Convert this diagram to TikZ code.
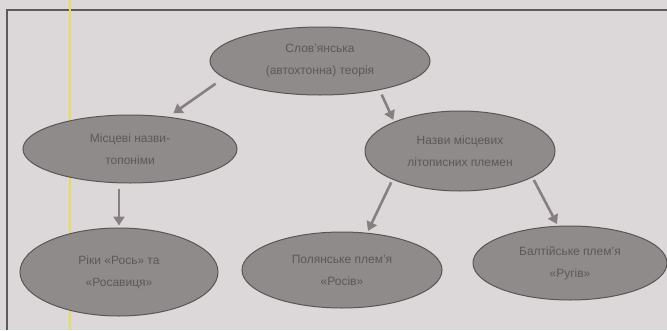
\documentclass[tikz,border=0pt]{standalone}
\usepackage{fontspec}
\setmainfont{Liberation Sans}
\usetikzlibrary{shapes.geometric,arrows.meta}
\definecolor{bg}{HTML}{DCD8D9}
\definecolor{efill}{HTML}{8F8B8B}
\definecolor{edraw}{HTML}{5A5656}
\definecolor{etext}{HTML}{5E5858}
\definecolor{arr}{HTML}{888080}
\definecolor{frame}{HTML}{5E5A5A}
\definecolor{yel}{HTML}{E6DE5A}
\tikzset{
  oval/.style={ellipse, fill=efill, draw=edraw, line width=1pt, inner sep=0pt,
    text=etext, font=\fontsize{12}{22}\selectfont, align=center},
  link/.style={draw=arr, line width=2.6pt, -{Triangle[length=9pt,width=11pt]}, shorten >=2pt}
}
\begin{document}
\begin{tikzpicture}[x=1pt,y=-1pt]
\fill[bg] (0,0) rectangle (667,330);
\useasboundingbox (0,0) rectangle (667,330);
\draw[frame, line width=1.5pt] (7,330) -- (7,10) -- (667,10);
\draw[yel, line width=1.3pt] (70,0) -- (70,330);

\node[oval, minimum width=220pt, minimum height=68pt] (e1) at (320,61) {Слов’янська\\(автохтонна) теорія};
\node[oval, minimum width=214pt, minimum height=68pt] (e2) at (130,149) {Місцеві назви-\\топоніми};
\node[oval, minimum width=190pt, minimum height=80pt] (e3) at (460,151) {Назви місцевих\\літописних племен};
\node[oval, minimum width=198pt, minimum height=88pt] (e4) at (119,272) {Ріки «Рось» та\\«Росавиця»};
\node[oval, minimum width=200pt, minimum height=76pt] (e5) at (342,270) {Полянське плем’я\\«Росів»};
\node[oval, minimum width=194pt, minimum height=74pt] (e6) at (570,263) {Балтійське плем’я\\«Ругів»};

\draw[link, shorten <=10pt, shorten >=6pt] (e1.190) -- (e2.40);
\draw[link, shorten <=5pt] (e1.334) -- (e3.156);
\draw[link, shorten <=5pt] (e4.north |- e2.south) -- (e4.north);
\draw[link, shorten <=3pt] (e3.203) -- (e5.56);
\draw[link, shorten <=3pt] (e3.340) -- (e6.108);
\end{tikzpicture}
\end{document}
